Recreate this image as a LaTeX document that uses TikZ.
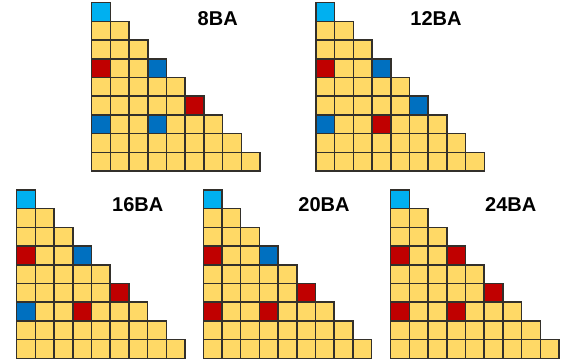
\documentclass[tikz,border=0pt]{standalone}
\usepackage{fontspec}
\setmainfont{Liberation Sans}
\definecolor{cellyellow}{HTML}{FFD966}
\definecolor{celllblue}{HTML}{00B0F0}
\definecolor{cellblue}{HTML}{0070C0}
\definecolor{cellred}{HTML}{C00000}
\definecolor{celledge}{HTML}{33302B}
\newcommand\gridcell[5]{\draw[cellbox,fill=#5] ({#1+(#4-1)*18.7},{#2+(#3-1)*18.7}) rectangle ++(18.7,18.7);}
\begin{document}
\begin{tikzpicture}[x=1pt,y=-1pt,
  cellbox/.style={draw=celledge,line width=1.5pt,line join=miter},
  lbl/.style={font=\bfseries\fontsize{20}{24}\selectfont,inner sep=0pt}]
\useasboundingbox (0,0) rectangle (563,362);
\foreach \ox/\oy in {91.7/2.7, 316/2.7, 16.7/190, 203.3/190, 390.7/190} {
  \foreach \r in {1,...,9} {
    \foreach \k in {1,...,\r} {
      \gridcell{\ox}{\oy}{\r}{\k}{cellyellow}
    }
  }
  \gridcell{\ox}{\oy}{1}{1}{celllblue}
}
% 8BA
\gridcell{91.7}{2.7}{4}{1}{cellred}
\gridcell{91.7}{2.7}{4}{4}{cellblue}
\gridcell{91.7}{2.7}{6}{6}{cellred}
\gridcell{91.7}{2.7}{7}{1}{cellblue}
\gridcell{91.7}{2.7}{7}{4}{cellblue}
% 12BA
\gridcell{316}{2.7}{4}{1}{cellred}
\gridcell{316}{2.7}{4}{4}{cellblue}
\gridcell{316}{2.7}{6}{6}{cellblue}
\gridcell{316}{2.7}{7}{1}{cellblue}
\gridcell{316}{2.7}{7}{4}{cellred}
% 16BA
\gridcell{16.7}{190}{4}{1}{cellred}
\gridcell{16.7}{190}{4}{4}{cellblue}
\gridcell{16.7}{190}{6}{6}{cellred}
\gridcell{16.7}{190}{7}{1}{cellblue}
\gridcell{16.7}{190}{7}{4}{cellred}
% 20BA
\gridcell{203.3}{190}{4}{1}{cellred}
\gridcell{203.3}{190}{4}{4}{cellblue}
\gridcell{203.3}{190}{6}{6}{cellred}
\gridcell{203.3}{190}{7}{1}{cellred}
\gridcell{203.3}{190}{7}{4}{cellred}
% 24BA
\gridcell{390.7}{190}{4}{1}{cellred}
\gridcell{390.7}{190}{4}{4}{cellred}
\gridcell{390.7}{190}{6}{6}{cellred}
\gridcell{390.7}{190}{7}{1}{cellred}
\gridcell{390.7}{190}{7}{4}{cellred}
% labels
\node[lbl] (l8) at (217.7,18.3) {8BA};
\node[lbl] (l12) at (436,18.3) {12BA};
\node[lbl] (l16) at (137.7,205) {16BA};
\node[lbl] (l20) at (324,205) {20BA};
\node[lbl] (l24) at (510.7,205) {24BA};
\end{tikzpicture}
\end{document}
